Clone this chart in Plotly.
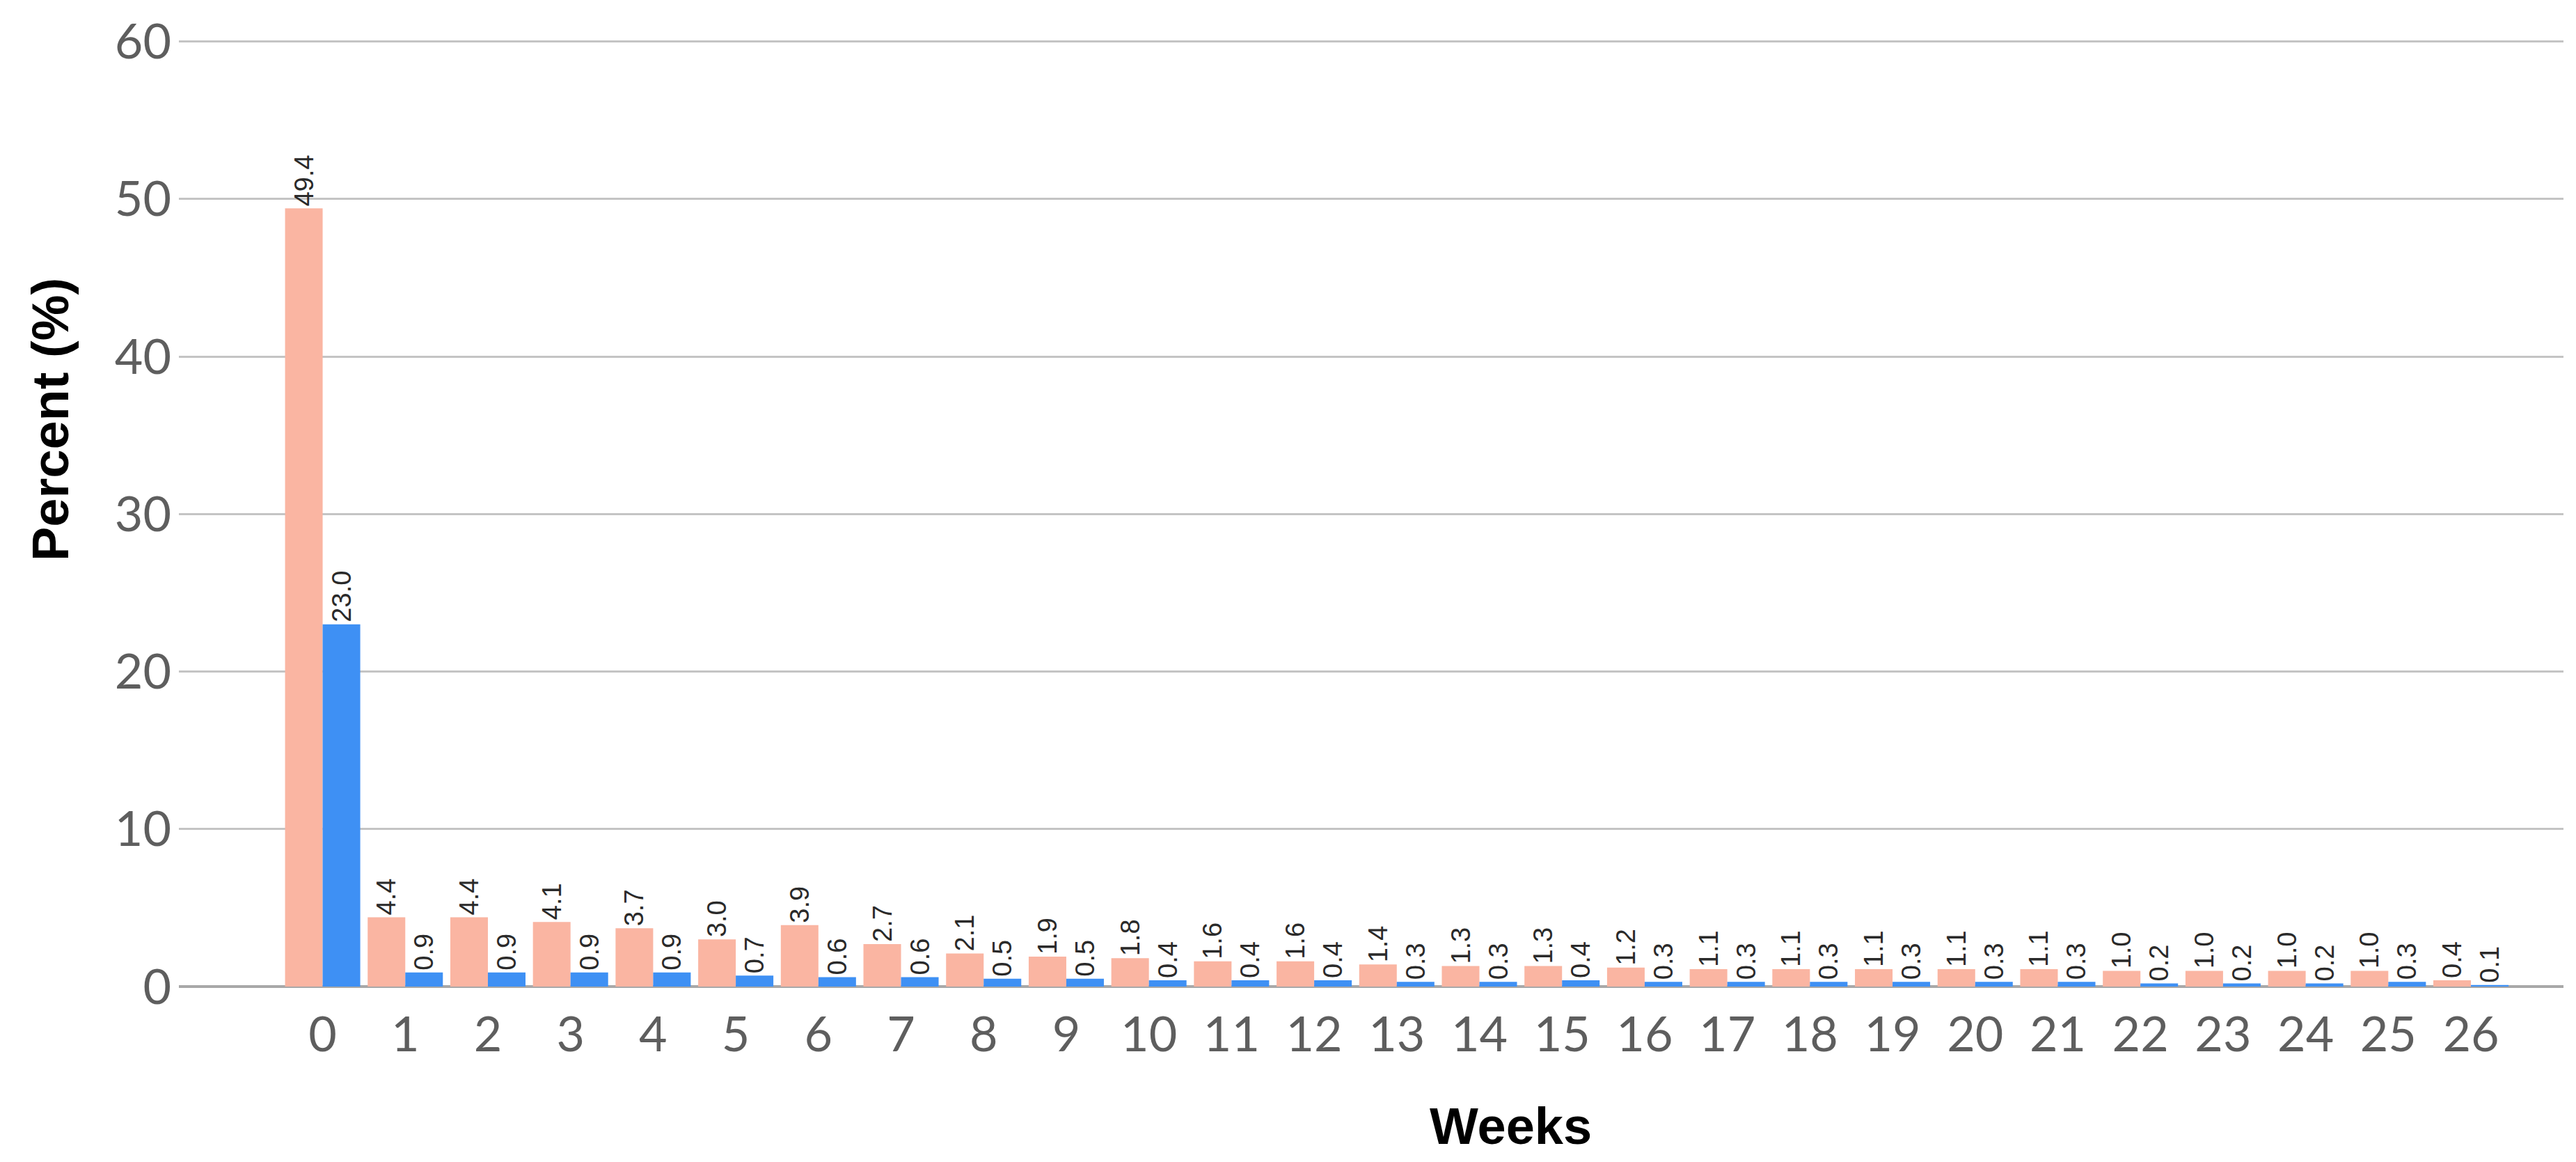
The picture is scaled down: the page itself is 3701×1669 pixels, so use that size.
import plotly.graph_objects as go

weeks = [str(i) for i in range(27)]
series_a = [49.4, 4.4, 4.4, 4.1, 3.7, 3.0, 3.9, 2.7, 2.1, 1.9, 1.8, 1.6, 1.6, 1.4, 1.3,
            1.3, 1.2, 1.1, 1.1, 1.1, 1.1, 1.1, 1.0, 1.0, 1.0, 1.0, 0.4]
series_b = [23.0, 0.9, 0.9, 0.9, 0.9, 0.7, 0.6, 0.6, 0.5, 0.5, 0.4, 0.4, 0.4, 0.3, 0.3,
            0.4, 0.3, 0.3, 0.3, 0.3, 0.3, 0.3, 0.2, 0.2, 0.2, 0.3, 0.1]
y_ticks = [0, 10, 20, 30, 40, 50, 60]

W, H = 3701, 1669
L, R, T, B = 249, 26, 47, 260

label_font = dict(family="Liberation Sans, Arial", size=38, color="#2a2a2a")
tick_font = dict(size=70, color="#5e5e5e", family="Lato, Open Sans, sans-serif")

fig = go.Figure()
for vals, col in [(series_a, "#FAB5A2"), (series_b, "#3E90F4")]:
    fig.add_trace(go.Bar(
        x=weeks, y=vals, marker=dict(color=col, line=dict(width=0)),
        texttemplate="%{y:.1f}", textposition="outside", textangle=-90,
        textfont=label_font, constraintext="none", cliponaxis=False,
        showlegend=False,
    ))

fig.update_layout(
    width=W, height=H,
    margin=dict(l=L, r=R, t=T, b=B, autoexpand=False),
    paper_bgcolor="white", plot_bgcolor="white",
    barmode="group", bargap=0.09, bargroupgap=0,
    font=dict(family="Lato, Open Sans, sans-serif", color="#5e5e5e"),
    uniformtext=dict(mode=False),
)
fig.update_xaxes(
    type="category", range=[-1.74, 27.12],
    showgrid=False, showline=False, ticks="",
    tickfont=tick_font, ticklabelstandoff=22,
)
fig.update_yaxes(
    range=[0, 60.2], tickvals=y_ticks,
    showgrid=True, gridcolor="#c4c4c4", gridwidth=3,
    zeroline=True, zerolinecolor="#a8a8a8", zerolinewidth=4,
    showline=False, ticks="",
    tickfont=tick_font, ticklabelstandoff=10,
)

plot_w = W - L - R
plot_h = H - T - B
fig.add_annotation(text="<b>Weeks</b>", xref="paper", yref="paper",
                   x=(2162 - L) / plot_w, y=-(1609 - (H - B)) / plot_h,
                   showarrow=False, xanchor="center", yanchor="middle",
                   font=dict(family="Liberation Sans, Arial", size=74, color="#000000"))
fig.add_annotation(text="<b>Percent (%)</b>", xref="paper", yref="paper",
                   x=-(L - 64) / plot_w, y=(H - B - 595) / plot_h,
                   showarrow=False, textangle=-90, xanchor="center", yanchor="middle",
                   font=dict(family="Liberation Sans, Arial", size=74, color="#000000"))

fig.write_html("out.html")
